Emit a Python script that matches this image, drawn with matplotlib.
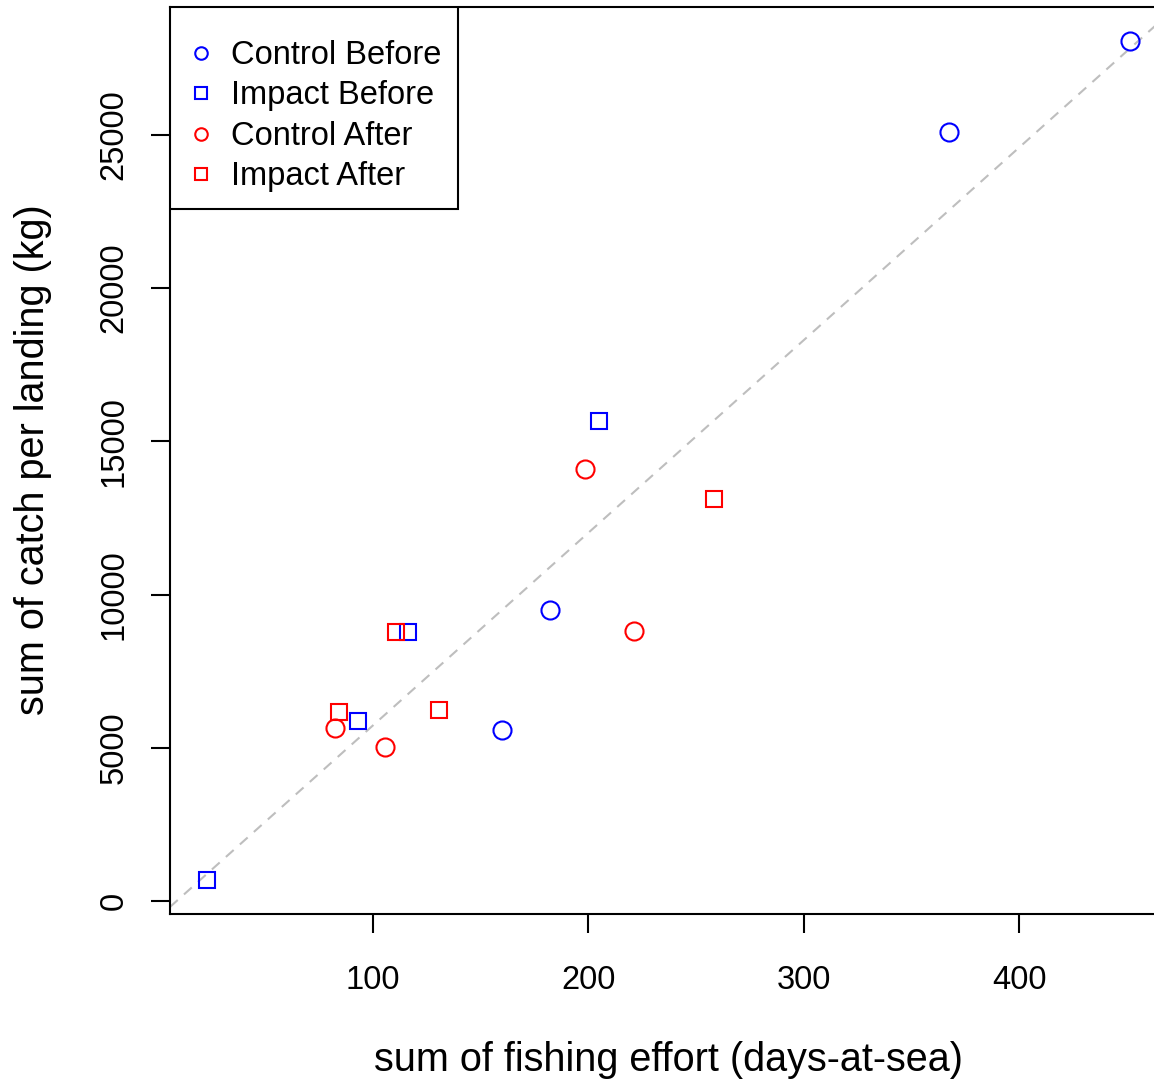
import matplotlib
matplotlib.use("Agg")
import matplotlib.pyplot as plt
from matplotlib.lines import Line2D
from matplotlib.patches import Rectangle

plt.rcParams['font.family'] = ['Liberation Sans', 'DejaVu Sans']

# Data
cb_effort = [451.6, 367.5, 182.3, 159.9]
cb_catch = [28064, 25098, 9485, 5574]
ib_effort = [205.0, 116.3, 93.0, 22.9]
ib_catch = [15678, 8768, 5867, 684]
ca_effort = [198.6, 221.3, 82.4, 105.6]
ca_catch = [14081, 8800, 5639, 5020]
ia_effort = [258.5, 110.8, 84.3, 130.7]
ia_catch = [13103, 8768, 6160, 6226]
line_intercept = -545
line_slope = 62.8

xticks = [100, 200, 300, 400]
yticks = [0, 5000, 10000, 15000, 20000, 25000]

W, H = 1154, 1085
fig = plt.figure(figsize=(W / 100, H / 100), dpi=100)
ax_l, ax_r, ax_t, ax_b = 170, 1167, 7, 914
ax = fig.add_axes([ax_l / W, (H - ax_b) / H, (ax_r - ax_l) / W, (ax_b - ax_t) / H])

xlim = (5.8, 468.7)
ylim = (-411, 29159)
ax.set_xlim(*xlim)
ax.set_ylim(*ylim)

ax.plot([xlim[0], xlim[1]],
        [line_intercept + line_slope * xlim[0], line_intercept + line_slope * xlim[1]],
        color='#BEBEBE', lw=1.5, dashes=(5, 4), zorder=1)

ms = 13
mew = 1.5
ax.plot(cb_effort, cb_catch, 'o', ms=ms, mfc='none', mec='blue', mew=mew, ls='none')
ax.plot(ib_effort, ib_catch, 's', ms=ms - 1, mfc='none', mec='blue', mew=mew, ls='none')
ax.plot(ca_effort, ca_catch, 'o', ms=ms, mfc='none', mec='red', mew=mew, ls='none')
ax.plot(ia_effort, ia_catch, 's', ms=ms - 1, mfc='none', mec='red', mew=mew, ls='none')

for sp in ax.spines.values():
    sp.set_linewidth(1.5)

ax.set_xticks(xticks)
ax.set_yticks(yticks)
ax.tick_params(axis='both', direction='out', length=14, width=1.5, labelsize=23.5)
ax.tick_params(axis='x', pad=23)
ax.tick_params(axis='y', pad=15)
for lab in ax.get_yticklabels():
    lab.set_rotation(90)
    lab.set_va('center')

fig.text(668.5 / W, 1 - 1060 / H, 'sum of fishing effort (days-at-sea)',
         ha='center', va='center', fontsize=28.5)
fig.text(33 / W, 1 - 460 / H, 'sum of catch per landing (kg)',
         ha='center', va='center', rotation=90, fontsize=28.5)

def px_to_axes(px, py):
    return (px - ax_l) / (ax_r - ax_l), (ax_b - py) / (ax_b - ax_t)

# legend frame
x0, y0 = px_to_axes(170, 209)
x1, y1 = px_to_axes(458, 7)
ax.add_patch(Rectangle((x0, y0), x1 - x0, y1 - y0, transform=ax.transAxes,
                       fill=True, facecolor='white', edgecolor='black', lw=1.5, zorder=5))

handles = [
    Line2D([], [], marker='o', ls='none', mfc='none', mec='blue', mew=1.5, ms=9),
    Line2D([], [], marker='s', ls='none', mfc='none', mec='blue', mew=1.5, ms=8.5),
    Line2D([], [], marker='o', ls='none', mfc='none', mec='red', mew=1.5, ms=9),
    Line2D([], [], marker='s', ls='none', mfc='none', mec='red', mew=1.5, ms=8.5),
]
labels = ['Control Before', 'Impact Before', 'Control After', 'Impact After']
lx, ly = px_to_axes(184.7, 40)
leg = ax.legend(handles, labels, loc='upper left', bbox_to_anchor=(lx, ly),
                borderaxespad=0, frameon=False,
                fontsize=23.5, handlelength=1.0, handletextpad=0.42,
                labelspacing=0.29, borderpad=0)
leg.set_zorder(6)

fig.savefig('out.png', dpi=100)
